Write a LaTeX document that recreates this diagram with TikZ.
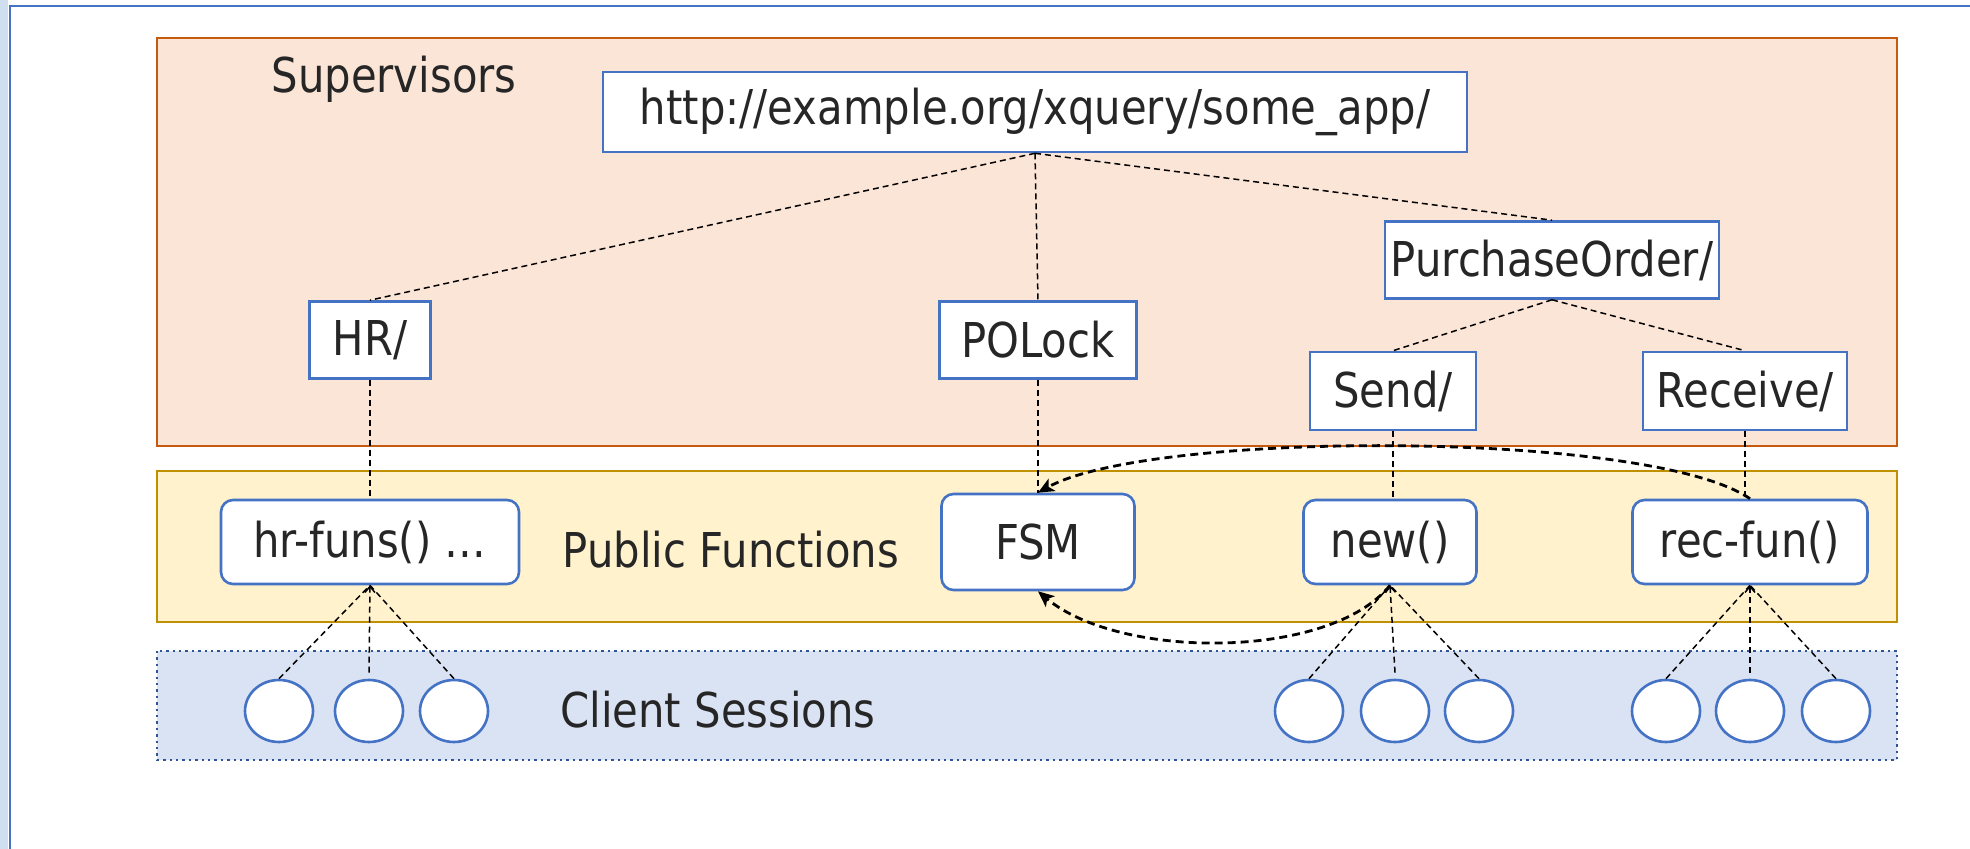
\documentclass[tikz,border=0pt]{standalone}
\usepackage{fontspec}
\setmainfont[FakeStretch=0.87]{DejaVu Sans}
\usetikzlibrary{arrows.meta,shapes.geometric}
\definecolor{supfill}{HTML}{FBE5D6}
\definecolor{supdraw}{HTML}{C55A11}
\definecolor{pubfill}{HTML}{FFF2CC}
\definecolor{pubdraw}{HTML}{BF9000}
\definecolor{clifill}{HTML}{DAE3F3}
\definecolor{clidraw}{HTML}{2F5597}
\definecolor{nodedraw}{HTML}{4472C4}
\definecolor{txt}{HTML}{262626}
\definecolor{strip}{HTML}{CFDFF0}
\tikzset{
  sqbox/.style={draw=nodedraw, fill=white, line width=1.3pt, inner sep=0pt, text=txt, font=\fontsize{24}{28}\selectfont},
  rbox/.style={sqbox, rounded corners=6pt},
  sess/.style={ellipse, draw=nodedraw, fill=white, line width=1.3pt, minimum width=34pt, minimum height=31pt, inner sep=0pt},
  link/.style={dash pattern=on 3pt off 2pt, line width=0.75pt},
  uplink/.style={link, -{Straight Barb[length=3pt,width=5pt]}},
  flow/.style={dash pattern=on 4pt off 2.5pt, line width=1.4pt, -{Stealth[length=8pt,width=7pt,inset=2pt]}},
  region/.style={line width=1.3pt},
  lbl/.style={text=txt, inner sep=0pt, font=\fontsize{24}{28}\selectfont}
}
\begin{document}
\begin{tikzpicture}[x=0.5pt,y=-0.5pt]
\useasboundingbox (0,0) rectangle (1970,849);
% outer frame
\fill[strip] (0,0) rectangle (8,849);
\draw[nodedraw, line width=1pt] (10,849) -- (10,6) -- (1970,6);
% regions
\draw[region, draw=supdraw, fill=supfill] (157,38) rectangle (1897,446);
\draw[region, draw=pubdraw, fill=pubfill] (157,471) rectangle (1897,622);
\draw[line width=1.2pt, dotted, draw=clidraw, fill=clifill] (157,651) rectangle (1897,760);
% labels
\node[lbl] (lsup) at (394,79) {Supervisors};
\node[lbl] (lpub) at (731,550) {Public Functions};
\node[lbl] (lcli) at (718,710) {Client Sessions};
% supervisor nodes
\node[sqbox, minimum width=432pt, minimum height=40pt] (url) at (1035,112) {http://example.org/xquery/some\_app/};
\node[sqbox, minimum width=60.5pt, minimum height=38.5pt] (hr) at (370,340) {HR/};
\node[sqbox, minimum width=98.5pt, minimum height=38.5pt] (polock) at (1038,340) {POLock};
\node[sqbox, minimum width=167pt, minimum height=38.5pt] (po) at (1552,260) {PurchaseOrder/};
\node[sqbox, minimum width=83pt, minimum height=39pt] (send) at (1393,391) {Send/};
\node[sqbox, minimum width=102pt, minimum height=39pt] (recv) at (1745,391) {Receive/};
% public functions
\node[rbox, minimum width=149pt, minimum height=42pt] (hrf) at (370,542) {hr-funs() \dots};
\node[rbox, minimum width=96.5pt, minimum height=48pt] (fsm) at (1038,542) {FSM};
\node[rbox, minimum width=86.5pt, minimum height=42pt] (new) at (1390,542) {new()};
\node[rbox, minimum width=117.5pt, minimum height=42pt] (rec) at (1750,542) {rec-fun()};
% sessions
\node[sess] (s1) at (279,711) {};
\node[sess] (s2) at (369,711) {};
\node[sess] (s3) at (454,711) {};
\node[sess] (s4) at (1309,711) {};
\node[sess] (s5) at (1395,711) {};
\node[sess] (s6) at (1479,711) {};
\node[sess] (s7) at (1666,711) {};
\node[sess] (s8) at (1750,711) {};
\node[sess] (s9) at (1836,711) {};
% tree links
\draw[link] (url.south) -- (hr.north);
\draw[link] (url.south) -- (polock.north);
\draw[link] (url.south) -- (po.north);
\draw[link] (po.south) -- (send.north);
\draw[link] (po.south) -- (recv.north);
\draw[link] (hr.south) -- (hrf.north);
\draw[link] (polock.south) -- (fsm.north);
\draw[link] (send.south) -- (send.south |- new.north);
\draw[link] (recv.south) -- (recv.south |- rec.north);
% session links
\draw[link] (s1.north) -- (hrf.south);
\draw[uplink] ([yshift=3pt]s2.north) -- (hrf.south);
\draw[link] (s3.north) -- (hrf.south);
\draw[link] (s4.north) -- (new.south);
\draw[uplink] ([yshift=3pt]s5.north) -- (new.south);
\draw[link] (s6.north) -- (new.south);
\draw[link] (s7.north) -- (rec.south);
\draw[uplink] ([yshift=3pt]s8.north) -- (rec.south);
\draw[link] (s9.north) -- (rec.south);
% flows
\draw[flow] (rec.north) .. controls (1650,430) and (1150,430) .. (fsm.north);
\draw[flow] (new.south) .. controls (1330,660) and (1120,660) .. (fsm.south);
\end{tikzpicture}
\end{document}
